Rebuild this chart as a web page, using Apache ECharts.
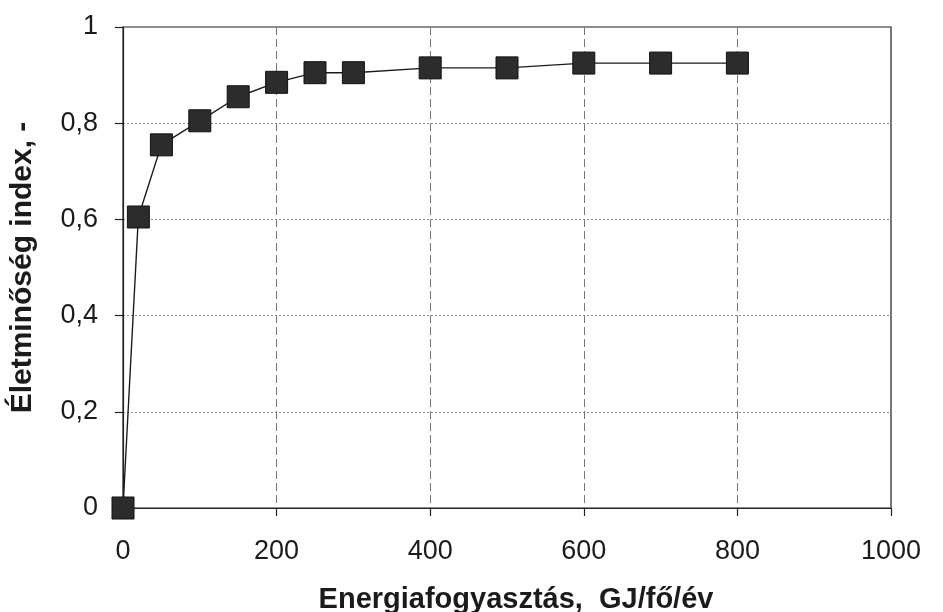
<!DOCTYPE html>
<html>
<head>
<meta charset="utf-8">
<script src="https://cdn.jsdelivr.net/npm/echarts@6/dist/echarts.min.js"></script>
<style>
  html, body { margin: 0; padding: 0; background: #ffffff; }
  #chart { width: 943px; height: 612px; }
</style>
</head>
<body>
<div id="chart"></div>
<script>
// Energy consumption per capita (GJ/person/year) vs. quality-of-life index
const energy = [0, 20, 50, 100, 150, 200, 250, 300, 400, 500, 600, 700, 800];
const qualityIndex = [0, 0.605, 0.755, 0.805, 0.855, 0.885, 0.905, 0.905, 0.915, 0.915, 0.925, 0.925, 0.925];
const xTicks = [0, 200, 400, 600, 800, 1000];
const yTicks = [0, 0.2, 0.4, 0.6, 0.8, 1];

const xTitle = 'Energiafogyasztás,  GJ/fő/év';
const yTitle = 'Életminőség index, -';

const points = energy.map((e, i) => [e, qualityIndex[i]]);
const textColor = '#1b1b1b';
const font = 'Liberation Sans, Arial, sans-serif';

const chart = echarts.init(document.getElementById('chart'), null, { renderer: 'canvas' });
chart.setOption({
  backgroundColor: '#ffffff',
  animation: false,
  grid: {
    left: 123, right: 52, top: 27, bottom: 104,
    outerBoundsMode: 'none',
    containLabel: false,
    show: true, borderColor: '#222', borderWidth: 1.2, backgroundColor: 'transparent'
  },
  xAxis: {
    type: 'value',
    min: xTicks[0], max: xTicks[xTicks.length - 1], interval: 200,
    name: xTitle,
    nameLocation: 'middle',
    nameGap: 74,
    nameTextStyle: {
      fontFamily: font, fontSize: 29, fontWeight: 'bold', color: textColor,
      padding: [3, 0, 0, 18]
    },
    axisLine: { show: true, lineStyle: { color: '#222', width: 1.2 } },
    axisTick: { show: true, length: 8, inside: false, lineStyle: { color: '#222', width: 1.2 } },
    axisLabel: { margin: 30, fontFamily: font, fontSize: 27, color: textColor, formatter: v => String(v) },
    splitLine: { show: true, lineStyle: { color: '#777', width: 1, type: [8, 4] } }
  },
  yAxis: {
    type: 'value',
    min: yTicks[0], max: yTicks[yTicks.length - 1], interval: 0.2,
    name: yTitle,
    nameLocation: 'middle',
    nameGap: 85,
    nameRotate: 90,
    nameTextStyle: { fontFamily: font, fontSize: 30, fontWeight: 'bold', color: textColor },
    axisLine: { show: true, lineStyle: { color: '#222', width: 1.2 } },
    axisTick: { show: true, length: 8, inside: false, lineStyle: { color: '#222', width: 1.2 } },
    axisLabel: {
      margin: 25, fontFamily: font, fontSize: 27, color: textColor,
      formatter: v => String(Math.round(v * 10) / 10).replace('.', ',')
    },
    splitLine: { show: true, lineStyle: { color: '#888', width: 1, type: [2, 2] } }
  },
  series: [{
    type: 'line',
    data: points,
    symbol: 'rect',
    symbolSize: 22,
    showAllSymbol: true,
    lineStyle: { color: '#1a1a1a', width: 1.4 },
    itemStyle: { color: '#2c2c2c', borderColor: '#111', borderWidth: 1 },
    z: 5
  }]
});
</script>
</body>
</html>
